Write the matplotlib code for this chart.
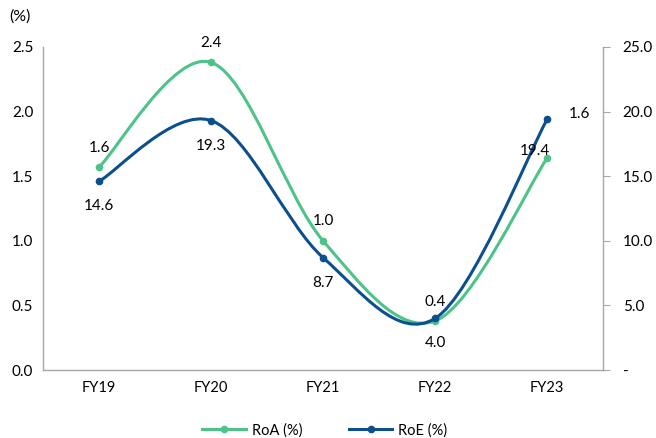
import numpy as np
import matplotlib.pyplot as plt
from matplotlib.path import Path
from matplotlib.patches import PathPatch
from matplotlib.lines import Line2D

years = ["FY19", "FY20", "FY21", "FY22", "FY23"]
roa = [1.57, 2.38, 1.00, 0.38, 1.64]
roe = [14.6, 19.3, 8.7, 4.0, 19.4]
roa_labels = ["1.6", "2.4", "1.0", "0.4", "1.6"]
roe_labels = ["14.6", "19.3", "8.7", "4.0", "19.4"]
left_ticks = [0.0, 0.5, 1.0, 1.5, 2.0, 2.5]
right_ticks = [0, 5, 10, 15, 20, 25]
right_tick_labels = ["-", "5.0", "10.0", "15.0", "20.0", "25.0"]

GREEN = "#4DC38A"
BLUE = "#0B4F8F"
GRAY = "#A6A6A6"

plt.rcParams['font.family'] = ['Lato', 'DejaVu Sans']
plt.rcParams['font.size'] = 11


def smooth_path(xs, ys):
    # Bezier path through the points, Excel-style smoothing
    pts = np.column_stack([xs, ys]).astype(float)
    n = len(pts)
    verts = [pts[0]]
    codes = [Path.MOVETO]
    for i in range(n - 1):
        p0 = pts[i - 1] if i > 0 else pts[i]
        p1 = pts[i]
        p2 = pts[i + 1]
        p3 = pts[i + 2] if i + 2 < n else pts[i + 1]
        c1 = p1 + (p2 - p0) / 6.0
        c2 = p2 - (p3 - p1) / 6.0
        verts += [c1, c2, p2]
        codes += [Path.CURVE4] * 3
    return Path(verts, codes)


fig = plt.figure(figsize=(6.56, 4.38), dpi=100)
ax = fig.add_axes([0.0655, 0.155, 0.854, 0.738])
ax2 = ax.twinx()

x = np.arange(len(years))

ax.add_patch(PathPatch(smooth_path(x, roa), facecolor='none', edgecolor=GREEN, lw=2.2, zorder=3))
ax.plot(x, roa, 'o', color=GREEN, ms=4.5, zorder=4)
ax2.add_patch(PathPatch(smooth_path(x, roe), facecolor='none', edgecolor=BLUE, lw=2.2, zorder=3))
ax2.plot(x, roe, 'o', color=BLUE, ms=4.5, zorder=4)

ax.set_xlim(-0.5, len(years) - 0.5)
ax.set_ylim(0, 2.5)
ax2.set_ylim(0, 25)

ax.set_yticks(left_ticks)
ax.set_yticklabels([f"{v:.1f}" for v in left_ticks])
ax2.set_yticks(right_ticks)
ax2.set_yticklabels(right_tick_labels)
ax.set_xticks(x)
ax.set_xticklabels(years)

for a in (ax, ax2):
    a.spines['top'].set_visible(False)
    for s in ('left', 'right', 'bottom'):
        a.spines[s].set_color(GRAY)
        a.spines[s].set_linewidth(1.0)
ax.spines['right'].set_visible(False)
ax2.spines['left'].set_visible(False)
ax2.spines['bottom'].set_visible(False)

ax.tick_params(axis='y', length=0, pad=7, labelsize=11)
ax.tick_params(axis='x', length=0, pad=8, labelsize=10.5)
ax2.tick_params(axis='y', direction='out', length=5, color=GRAY, pad=9, labelsize=11)

# data labels
roa_off = [(0, 14), (0, 14), (0, 14), (0, 14), (23, 32)]
roe_off = [(0, -18), (0, -18), (0, -18), (0, -18), (-9, -23)]
for i in range(len(years)):
    ax.annotate(roa_labels[i], (x[i], roa[i]), xytext=roa_off[i], textcoords='offset points',
                ha='center', va='center', fontsize=11)
    ax2.annotate(roe_labels[i], (x[i], roe[i]), xytext=roe_off[i], textcoords='offset points',
                 ha='center', va='center', fontsize=11)

fig.text(0.014, 0.962, "(%)", fontsize=11.5, ha='left', va='center')

handles = [Line2D([], [], color=GREEN, lw=2.2, marker='o', ms=4.5),
           Line2D([], [], color=BLUE, lw=2.2, marker='o', ms=4.5)]
fig.legend(handles, ["RoA (%)", "RoE (%)"], loc='center', bbox_to_anchor=(0.495, 0.018),
           ncol=2, frameon=False, fontsize=10.5, handlelength=3.0, columnspacing=3.2,
           handletextpad=0.4)

fig.savefig("out.png", dpi=100)
